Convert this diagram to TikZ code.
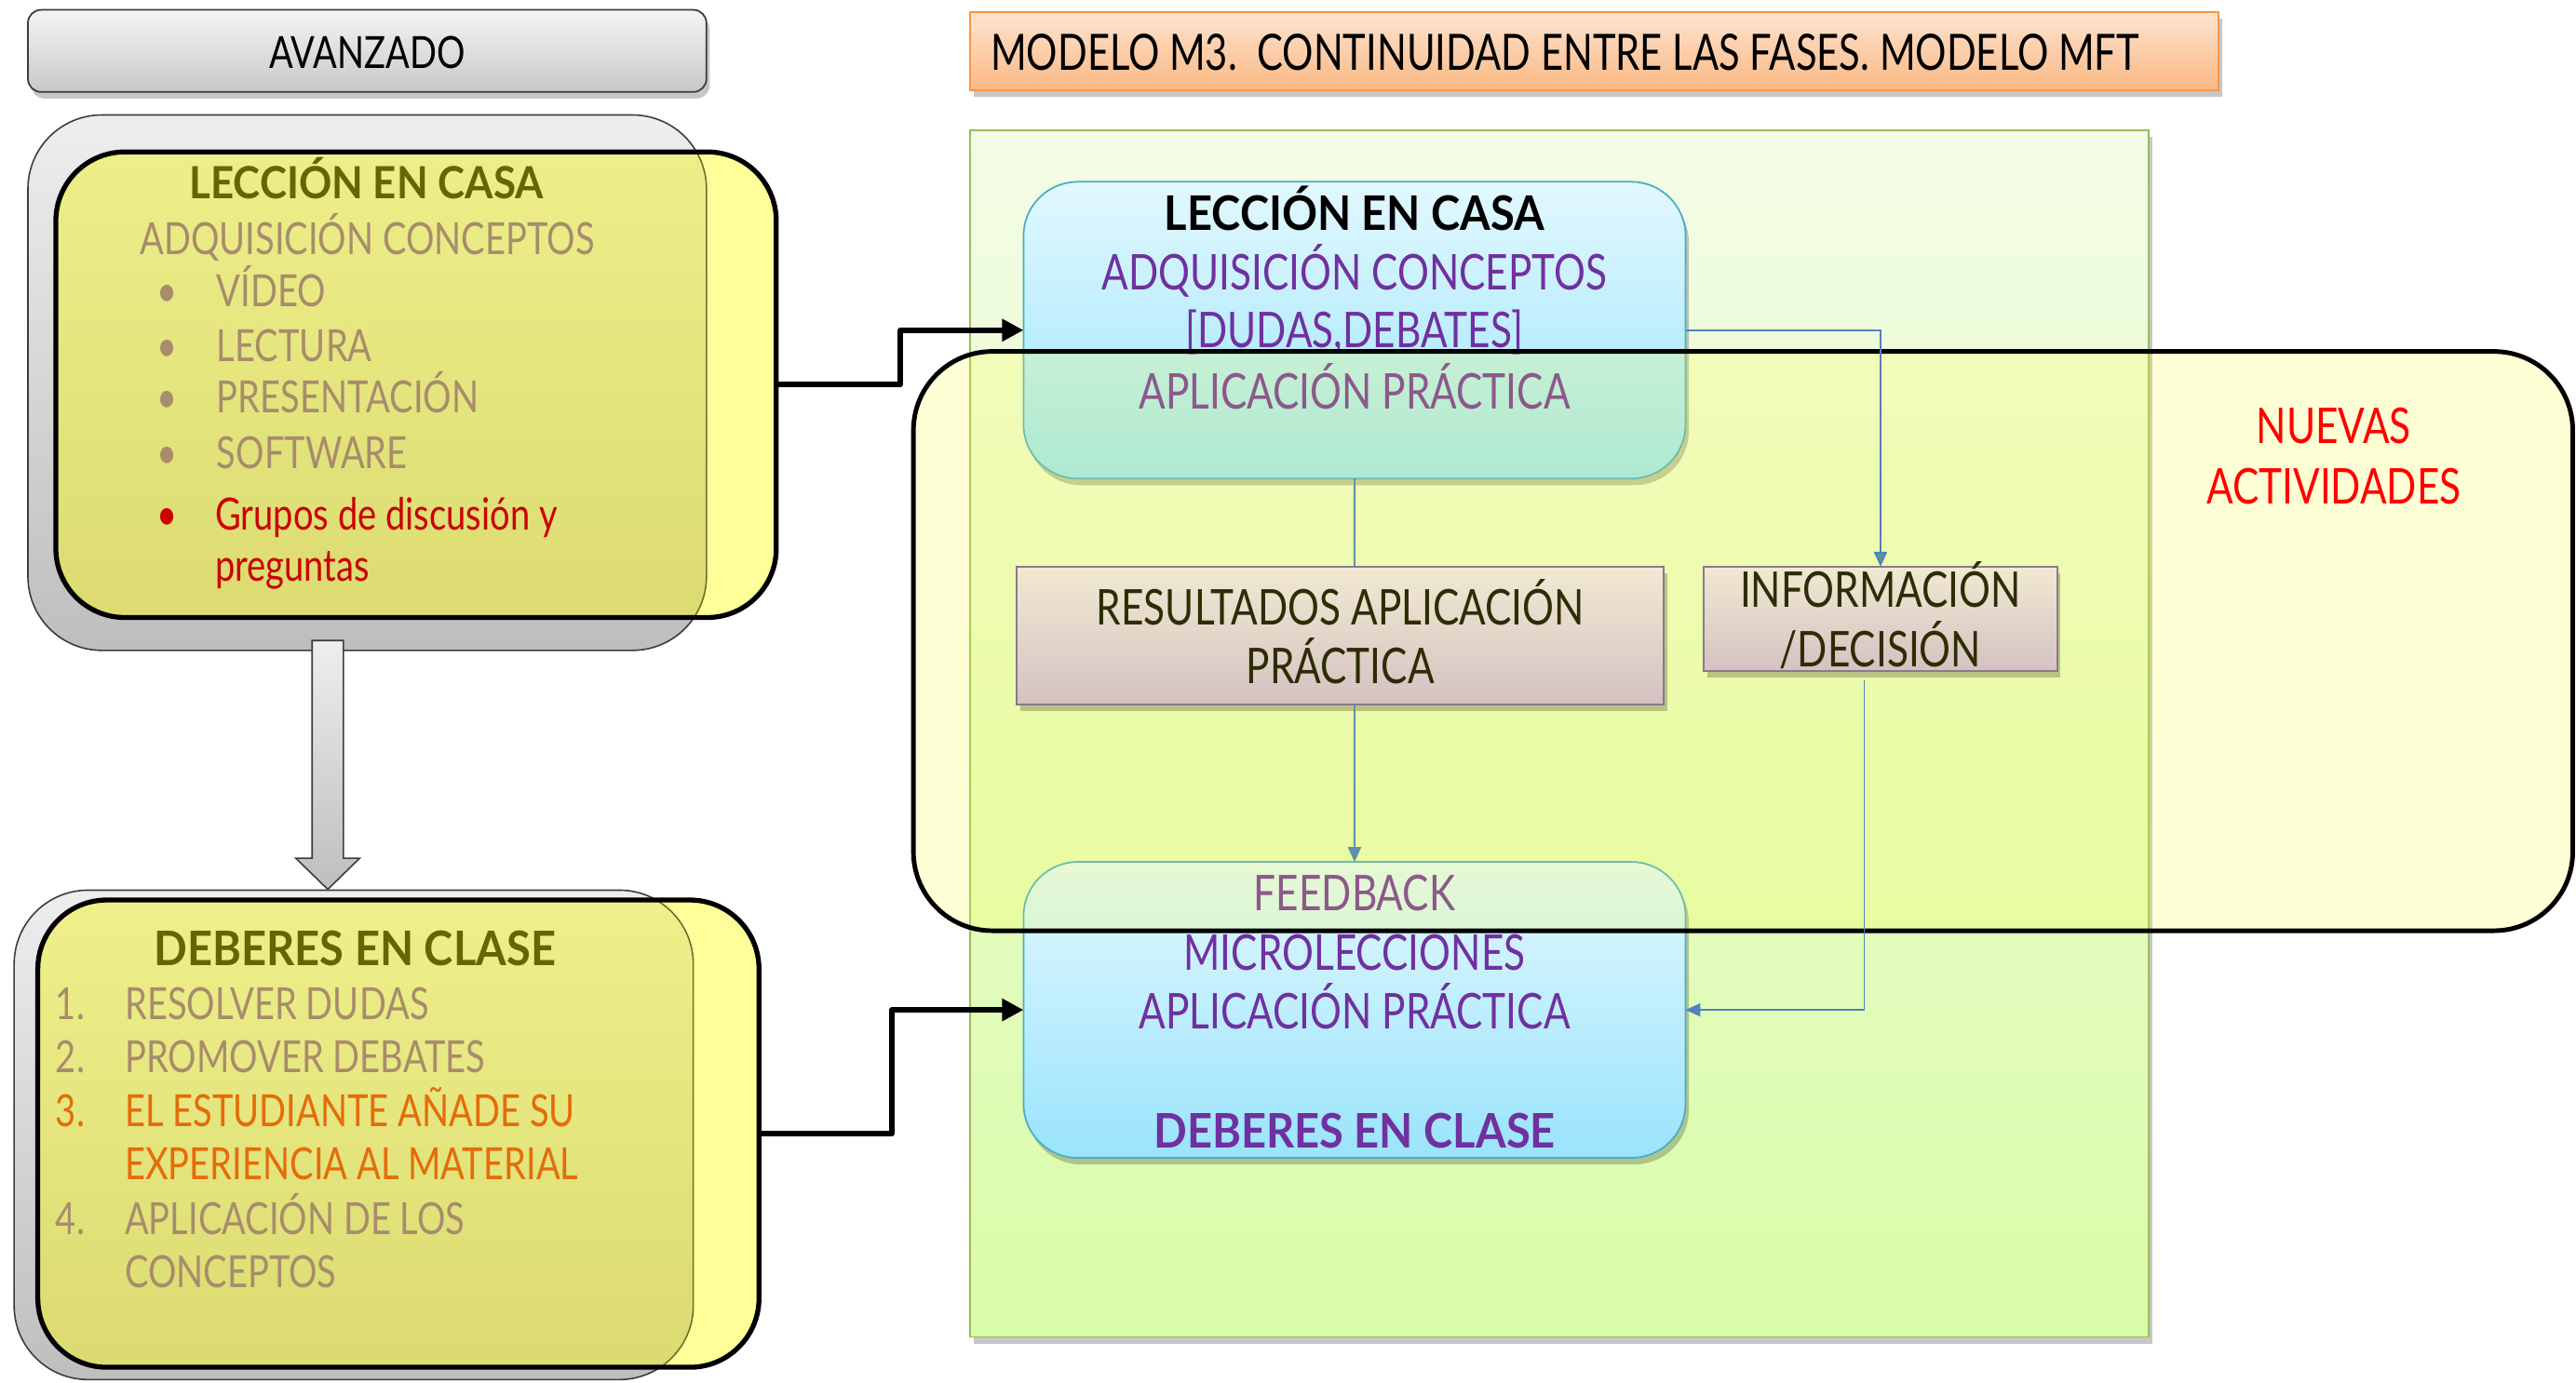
\documentclass[tikz,border=0pt]{standalone}
\usepackage{fontspec}
\setmainfont{Lato}[FakeStretch=0.8]
\newfontfamily\boldf{Lato}[FakeStretch=0.92]
\newfontfamily\narrowf{Lato}[FakeStretch=0.775]
\usetikzlibrary{arrows.meta,shadows,calc}
\definecolor{tanT}{RGB}{168,140,108}
\definecolor{oliveT}{RGB}{102,102,0}
\definecolor{redT}{RGB}{204,0,0}
\definecolor{orangeT}{RGB}{228,108,10}
\definecolor{purpT}{RGB}{112,48,160}
\definecolor{darkT}{RGB}{45,45,5}
\definecolor{connC}{RGB}{95,145,165}
\definecolor{connB}{RGB}{79,129,189}
\definecolor{grT}{RGB}{238,238,238}
\definecolor{grB}{RGB}{190,190,190}
\definecolor{grE}{RGB}{60,60,60}
\definecolor{yelP}{RGB}{255,255,153}
\definecolor{olT}{RGB}{240,240,140}
\definecolor{olB}{RGB}{218,218,112}
\definecolor{olE}{RGB}{110,110,50}
\definecolor{ttlT}{RGB}{253,228,208}
\definecolor{ttlB}{RGB}{250,184,132}
\definecolor{ttlE}{RGB}{247,150,70}
\definecolor{pnlT}{RGB}{243,252,230}
\definecolor{pnlB}{RGB}{218,252,168}
\definecolor{pnlE}{RGB}{155,187,89}
\definecolor{bluT}{RGB}{226,248,254}
\definecolor{bluB}{RGB}{154,228,252}
\definecolor{bluE}{RGB}{75,172,198}
\definecolor{resT}{RGB}{241,233,210}
\definecolor{resB}{RGB}{212,194,194}
\definecolor{resE}{RGB}{140,120,140}
\definecolor{nuevC}{RGB}{255,255,51}
\newcommand\fL{\fontsize{27pt}{32pt}\selectfont}
\newcommand\fR{\fontsize{30pt}{36pt}\selectfont}
\newcommand\fTt{\fontsize{30.5pt}{36pt}\narrowf}
\newcommand\fLb{\fontsize{27pt}{32pt}\boldf\bfseries}
\newcommand\fLbb{\fontsize{29pt}{34pt}\boldf\bfseries}
\newcommand\fRb{\fontsize{29pt}{34pt}\boldf\bfseries}
\begin{document}
\begin{tikzpicture}[x=1pt,y=-1pt,
  t/.style={anchor=base,inner sep=0pt,outer sep=0pt},
  tw/.style={anchor=base west,inner sep=0pt,outer sep=0pt},
  box/.style={rectangle,inner sep=0pt,outer sep=0pt},
  shd/.style={drop shadow={shadow xshift=2pt,shadow yshift=-4pt,opacity=0.22,fill=black}},
  graybox/.style={box,rounded corners=45pt,top color=grT,bottom color=grB,draw=grE,line width=0.9pt},
  bluebox/.style={box,rounded corners=33pt,top color=bluT,bottom color=bluB,draw=bluE,line width=1pt,shd},
  resbox/.style={box,top color=resT,bottom color=resB,draw=resE,line width=1pt,shd},
  conn/.style={draw=connC,line width=0.9pt},
  connb/.style={draw=connB,line width=0.9pt},
  tipc/.style={-{Triangle[length=9pt,width=8pt,fill=connC]}},
  tipb/.style={-{Triangle[length=9pt,width=8pt,fill=connB]}},
  blk/.style={line width=3.3pt,draw=black,line join=round,-{Triangle[length=13pt,width=13pt]}},
]
\useasboundingbox (0,0) rectangle (1568,842);
\fill[white] (0,0) rectangle (1568,842);

% ---------- left column ----------
\node[box,rounded corners=8pt,top color=grT!60!white,bottom color=grB!85!white,draw=grE,line width=1pt,shd,
  minimum width=413pt,minimum height=50pt] (avz) at (223.5,31) {};
\node[t,font=\fL] (avzT) at (223.5,41.6) {AVANZADO};

% group A
\node[graybox,minimum width=413pt,minimum height=326pt] (gA) at (223.5,233) {};
\node[box,fill=yelP,minimum width=438.5pt,minimum height=283.5pt,rounded corners=42pt] (yA) at (253.25,234.25) {};
\begin{scope}
  \clip[rounded corners=42pt] (yA.north west) rectangle (yA.south east);
  \shade[rounded corners=45pt,top color=olT,bottom color=olB] (gA.north west) rectangle (gA.south east);
  \draw[rounded corners=45pt,draw=olE,line width=0.9pt] (gA.north west) rectangle (gA.south east);
\end{scope}
\draw[rounded corners=42pt,line width=3pt] (yA.north west) rectangle (yA.south east);

% group B
\node[graybox,minimum width=413.4pt,minimum height=298pt] (gB) at (215.3,691) {};
\node[box,fill=yelP,minimum width=439pt,minimum height=284.5pt,rounded corners=42pt] (yB) at (242.5,690.25) {};
\begin{scope}
  \clip[rounded corners=42pt] (yB.north west) rectangle (yB.south east);
  \shade[rounded corners=45pt,top color=olT,bottom color=olB] (gB.north west) rectangle (gB.south east);
  \draw[rounded corners=45pt,draw=olE,line width=0.9pt] (gB.north west) rectangle (gB.south east);
\end{scope}
\draw[rounded corners=42pt,line width=3pt] (yB.north west) rectangle (yB.south east);

% block arrow from A to B
\coordinate (baTop) at ($(gA.south)+(-24,-6)$);
\coordinate (baTip) at ($(gB.north)+(-15.8,-0.5)$);
\shade[top color=grT,bottom color=grB,draw=grE,line width=0.9pt]
  ($(baTop)+(-9.5,0)$) -- ($(baTop)+(9.5,0)$) -- ($(baTip)+(9.5,-19)$) -- ($(baTip)+(19.5,-19)$)
  -- (baTip) -- ($(baTip)+(-19.5,-19)$) -- ($(baTip)+(-9.5,-19)$) -- cycle;

% texts group A
\node[t,font=\fLb,text=oliveT] (tA1) at (223,121) {LECCIÓN EN CASA};
\node[t,font=\fL,text=tanT] (tA2) at (223.5,155) {ADQUISICIÓN CONCEPTOS};
\foreach \y/\s [count=\i] in {186.5/VÍDEO,220/LECTURA,251.6/PRESENTACIÓN,285.5/SOFTWARE}{
  \node[t,font=\fL,text=tanT] (bA\i) at (102,\y) {•};
  \node[tw,font=\fL,text=tanT] (iA\i) at (132,\y) {\s};
}
\node[t,font=\fL,text=redT] (bA5) at (102,322.6) {•};
\node[tw,font=\fL,text=redT] (iA5) at (131,322.6) {Grupos de discusión y};
\node[tw,font=\fL,text=redT] (iA6) at (131,354) {preguntas};

% texts group B
\node[t,font=\fLbb,text=oliveT] (tB1) at (216,588) {DEBERES EN CLASE};
\node[tw,font=\fL,text=tanT] (nB1) at (34,621) {1.};
\node[tw,font=\fL,text=tanT] (iB1) at (76,621) {RESOLVER DUDAS};
\node[tw,font=\fL,text=tanT] (nB2) at (34,653) {2.};
\node[tw,font=\fL,text=tanT] (iB2) at (76,653) {PROMOVER DEBATES};
\node[tw,font=\fL,text=orangeT] (nB3) at (34,686) {3.};
\node[tw,font=\fL,text=orangeT] (iB3) at (76,686) {EL ESTUDIANTE AÑADE SU};
\node[tw,font=\fL,text=orangeT] (iB3b) at (76,718) {EXPERIENCIA AL MATERIAL};
\node[tw,font=\fL,text=tanT] (nB4) at (34,751.6) {4.};
\node[tw,font=\fL,text=tanT] (iB4) at (76,751.6) {APLICACIÓN DE LOS};
\node[tw,font=\fL,text=tanT] (iB4b) at (76,784) {CONCEPTOS};

% ---------- right part ----------
\node[box,top color=ttlT,bottom color=ttlB,draw=ttlE,line width=1.2pt,shd,
  minimum width=760pt,minimum height=47.5pt] (ttl) at (970.55,31.25) {};
\node[tw,font=\fTt] (ttlT) at (603,43) {MODELO M3.\ \ CONTINUIDAD ENTRE LAS FASES. MODELO MFT};

\node[box,top color=pnlT,bottom color=pnlB,draw=pnlE,line width=1pt,shd,
  minimum width=717.4pt,minimum height=734.7pt] (pnl) at (949.3,446.65) {};

\node[bluebox,minimum width=403pt,minimum height=180.7pt] (lecB) at (824.5,201.05) {};
\node[bluebox,minimum width=403pt,minimum height=180.2pt] (fbB) at (824.5,614.9) {};

% texts right
\node[t,font=\fRb] (lT1) at (824.5,140) {LECCIÓN EN CASA};
\node[t,font=\fR,text=purpT] (lT2) at (824.5,176.4) {ADQUISICIÓN CONCEPTOS};
\node[t,font=\fR,text=purpT] (lT3) at (824.5,211.6) {[DUDAS,DEBATES]};
\node[t,font=\fR,text=purpT] (lT4) at (824.5,249) {APLICACIÓN PRÁCTICA};
\node[t,font=\fR,text=purpT] (fT1) at (824.5,554.5) {FEEDBACK};
\node[t,font=\fR,text=purpT] (fT2) at (824.5,590.5) {MICROLECCIONES};
\node[t,font=\fR,text=purpT] (fT3) at (824.5,626.5) {APLICACIÓN PRÁCTICA};
\node[t,font=\fRb,text=purpT] (fT4) at (824.5,699) {DEBERES EN CLASE};

% nuevas actividades overlay
\node[box,rounded corners=48pt,fill=nuevC,fill opacity=0.2,draw=black,draw opacity=1,line width=2.8pt,
  minimum width=1010pt,minimum height=352.7pt] (nuev) at (1061,390.35) {};
\node[t,font=\fR,text=red] (nT1) at (1420.6,270) {NUEVAS};
\node[t,font=\fR,text=red] (nT2) at (1420.6,306.6) {ACTIVIDADES};

% result / info boxes (on top of the overlay)
\node[resbox,minimum width=393.7pt,minimum height=84pt] (res) at (815.85,387) {};
\node[resbox,minimum width=215.3pt,minimum height=63.6pt] (info) at (1144.65,376.8) {};
\node[t,font=\fR,text=darkT] (rT1) at (815.85,380.6) {RESULTADOS APLICACIÓN};
\node[t,font=\fR,text=darkT] (rT2) at (815.85,416.5) {PRÁCTICA};
\node[t,font=\fR,text=darkT] (iT1) at (1144.65,370) {INFORMACIÓN};
\node[t,font=\fR,text=darkT] (iT2) at (1144.65,406) {/DECISIÓN};

% thin connectors
\draw[conn] (lecB.south) -- (lecB.south |- res.north);
\draw[conn,tipc] (fbB.north |- res.south) -- (fbB.north);
\draw[connb,tipc] (lecB.east) -| (info.north);
\coordinate (infoOut) at ($(info.south)+(-10,5.5)$);
\draw[connb,tipb] (infoOut) |- (fbB.east);

% thick black connectors
\draw[blk] (yA.east) -- ++(75.5,0) |- (lecB.west);
\draw[blk] (yB.east) -- ++(81,0) |- (fbB.west);
\end{tikzpicture}
\end{document}
